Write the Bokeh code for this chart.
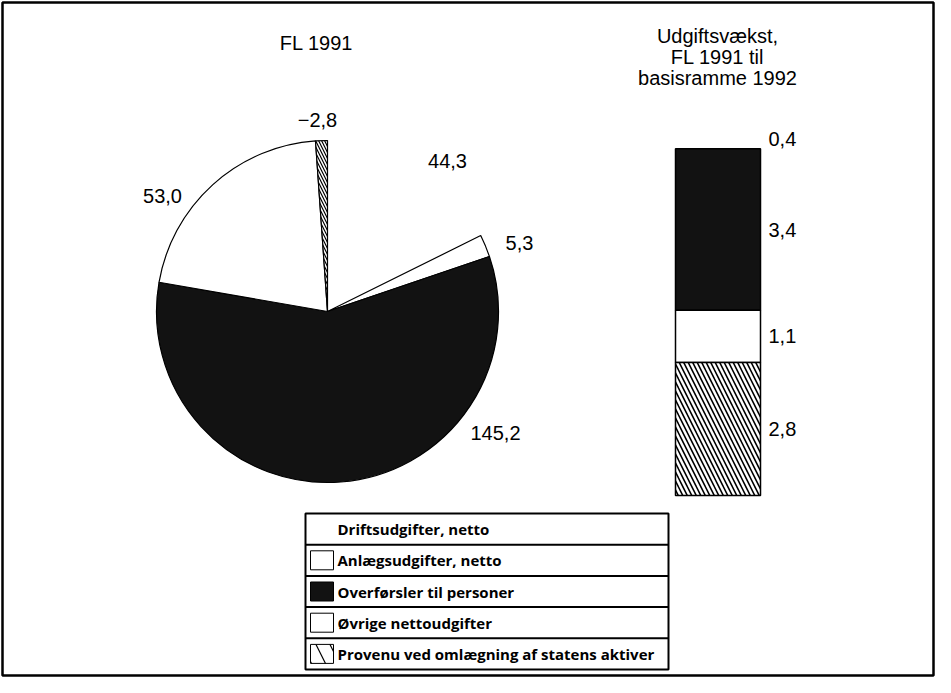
import numpy as np
from bokeh.plotting import figure
from bokeh.models import Range1d, ColumnDataSource
from bokeh.core.properties import value
from bokeh.embed import file_html
from bokeh.resources import INLINE

# ---------------- data ----------------
categories = ["Driftsudgifter, netto", "Anlægsudgifter, netto",
              "Overførsler til personer", "Øvrige nettoudgifter",
              "Provenu ved omlægning af statens aktiver"]
pie_values = [44.3, 5.3, 145.2, 53.0, -2.8]
pie_labels = ["44,3", "5,3", "145,2", "53,0", "\u22122,8"]
growth_values = [0.4, 0.0, 3.4, 1.1, 2.8]
growth_labels = ["0,4", "", "3,4", "1,1", "2,8"]
pie_title = "FL 1991"
bar_title = ["Udgiftsvækst,", "FL 1991 til", "basisramme 1992"]

# ---------------- styles ----------------
DARK = "#121212"
fills = ["white", "white", DARK, "white", "white"]
hatches = [" ", " ", " ", " ", "\\"]
line_alphas = [0, 1, 1, 1, 1]
LBL_FONT = value("Liberation Sans")
LBL_SIZE = "20px"
LEG_FONT = value("Open Sans")

W, H = 935, 677
B = 2
p = figure(width=W, height=H, x_range=Range1d(0, W - 2 * B), y_range=Range1d(0, H - 2 * B),
           output_backend="svg", toolbar_location=None,
           x_axis_location=None, y_axis_location=None,
           min_border_left=B, min_border_right=B, min_border_top=B, min_border_bottom=B)
for g in p.grid:
    g.visible = False
p.outline_line_color = "black"
p.outline_line_width = 2.5
p.background_fill_color = "white"
p.border_fill_color = "white"

# ---------------- pie ----------------
cx, cy, R = 325, 364, 171
order = [4, 3, 2, 1, 0]          # counter-clockwise from 12 o'clock
mags = np.abs(np.array(pie_values, dtype=float))
total = mags.sum()
starts = np.zeros(5)
ends = np.zeros(5)
a = np.pi / 2
for i in order:
    starts[i] = a
    a += mags[i] / total * 2 * np.pi
    ends[i] = a

pie_src = ColumnDataSource(dict(start=starts, end=ends, fill=fills, hatch=hatches,
                                la=line_alphas, cat=categories))
p.wedge(x=cx, y=cy, radius=R, start_angle="start", end_angle="end", source=pie_src,
        fill_color="fill", hatch_pattern="hatch", hatch_color="black", hatch_scale=6,
        hatch_weight=1.2, line_color="black", line_alpha="la", line_width=1.2)

pie_label_offsets = [(120, -151), (192, -69), (168, 121), (-165, -116), (-10, -192)]
p.text(x=[cx + d[0] for d in pie_label_offsets], y=[cy - d[1] for d in pie_label_offsets],
       text=pie_labels, text_font=LBL_FONT, text_font_size=LBL_SIZE,
       text_align="center", text_baseline="middle", text_color="black")

p.text(x=[314], y=[633], text=[pie_title], text_font=LBL_FONT, text_font_size=LBL_SIZE,
       text_align="center", text_baseline="middle", text_color="black")

# ---------------- stacked bar ----------------
px_per_unit = 47.5
base = 180
p.extra_y_ranges = {"bar": Range1d(-base / px_per_unit, (H - 2 * B - base) / px_per_unit)}
stack_order = [4, 3, 2, 1, 0]   # bottom to top
bottoms = np.zeros(5)
tops = np.zeros(5)
acc = 0.0
for i in stack_order:
    bottoms[i] = acc
    acc += growth_values[i]
    tops[i] = acc
bar_src = ColumnDataSource(dict(bottom=bottoms, top=tops, fill=fills, hatch=hatches,
                                la=[0 if v == 0 or k == 0 else 1 for k, v in enumerate(growth_values)],
                                fa=[0 if k == 0 else 1 for k in range(5)],
                                mid=(bottoms + tops) / 2, lbl=growth_labels))
bx = 715.5
p.vbar(x=bx, width=85, bottom="bottom", top="top", source=bar_src, y_range_name="bar",
       fill_color="fill", fill_alpha="fa", hatch_pattern="hatch", hatch_color="black",
       hatch_scale=9, hatch_weight=1.6, line_color="black", line_alpha="la", line_width=1.5)
p.text(x=766, y="mid", text="lbl", source=bar_src, y_range_name="bar",
       text_font=LBL_FONT, text_font_size=LBL_SIZE, text_align="left",
       text_baseline="middle", text_color="black")

p.text(x=[715] * 3, y=[640, 619, 598], text=bar_title, text_font=LBL_FONT,
       text_font_size=LBL_SIZE, text_align="center", text_baseline="middle", text_color="black")

# ---------------- legend ----------------
lx0, lx1 = 303, 666
ltop = 162
row_h = 31.2
n = len(categories)
row_mid = [ltop - (k + 0.5) * row_h for k in range(n)]
p.quad(left=lx0, right=lx1, top=ltop, bottom=ltop - n * row_h,
       fill_alpha=0, line_color="black", line_width=2)
p.segment(x0=[lx0] * (n - 1), x1=[lx1] * (n - 1),
          y0=[ltop - k * row_h for k in range(1, n)], y1=[ltop - k * row_h for k in range(1, n)],
          line_color="black", line_width=2)
leg_src = ColumnDataSource(dict(y=row_mid, fill=fills, hatch=hatches, la=line_alphas, cat=categories))
p.rect(x=319.5, y="y", width=23, height=19, source=leg_src, fill_color="fill",
       hatch_pattern="hatch", hatch_color="black", hatch_scale=28, hatch_weight=1.2,
       line_color="black", line_alpha="la", line_width=1)
p.text(x=335, y="y", text="cat", source=leg_src, text_font=LEG_FONT, text_font_size="15px",
       text_font_style="bold", text_align="left", text_baseline="middle", text_color="black")

open("out.html", "w").write(file_html(p, INLINE))
